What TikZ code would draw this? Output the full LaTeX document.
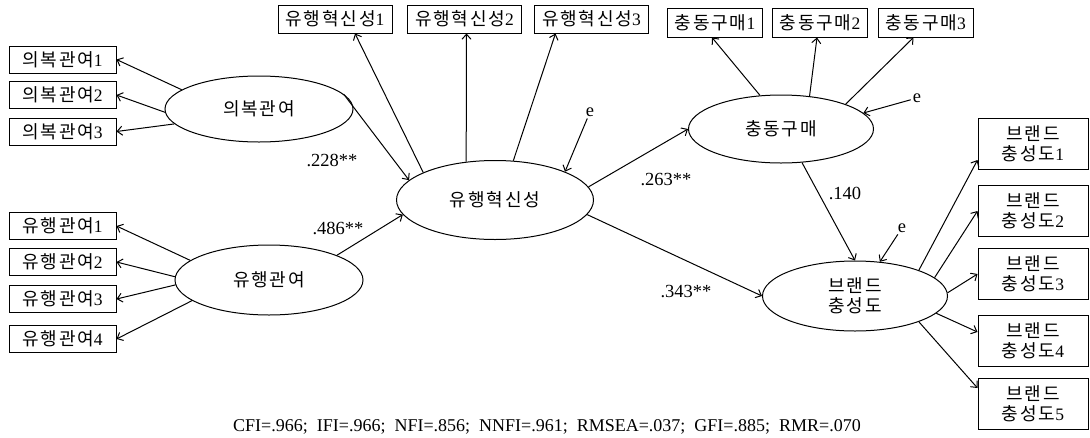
\documentclass[tikz,border=0pt]{standalone}
\usepackage{fontspec}
\setmainfont{Liberation Serif}
\newfontfamily\kr[LetterSpace=10,Scale=1.03]{Noto Sans CJK KR}
\usetikzlibrary{arrows.meta,shapes.geometric}
\begin{document}
\begin{tikzpicture}[x=1pt,y=-1pt,
  every node/.style={inner sep=0pt, font=\fontsize{17.5}{20}\selectfont},
  obs/.style={draw, line width=1pt, rectangle, align=center},
  lbox/.style={obs, minimum width=107pt, minimum height=27pt},
  tbox/.style={obs, minimum width=114pt, minimum height=28pt},
  cbox/.style={obs, minimum width=95pt, minimum height=29pt},
  rbox/.style={obs, minimum width=110pt, minimum height=51pt},
  lat/.style={draw, line width=1pt, ellipse, align=center},
  arr/.style={line width=1pt, -{Straight Barb[length=5pt,width=9pt]}},
  coef/.style={font=\fontsize{18.5}{20}\selectfont},
]
\useasboundingbox (0,0) rectangle (1090,437);
% observed boxes left
\node[lbox] (a1) at (62.5,59.5) {{\kr 의복관여}1};
\node[lbox] (a2) at (62.5,95) {{\kr 의복관여}2};
\node[lbox] (a3) at (62.5,131.5) {{\kr 의복관여}3};
\node[lbox] (b1) at (62.5,226) {{\kr 유행관여}1};
\node[lbox] (b2) at (62.5,262) {{\kr 유행관여}2};
\node[lbox] (b3) at (62.5,299) {{\kr 유행관여}3};
\node[lbox] (b4) at (62.5,339) {{\kr 유행관여}4};
% top boxes
\node[tbox] (t1) at (335,19) {{\kr 유행혁신성}1};
\node[tbox] (t2) at (464.5,19) {{\kr 유행혁신성}2};
\node[tbox] (t3) at (591.5,19) {{\kr 유행혁신성}3};
\node[cbox] (c1) at (715,22.5) {{\kr 충동구매}1};
\node[cbox] (c2) at (820,22.5) {{\kr 충동구매}2};
\node[cbox] (c3) at (925.5,22.5) {{\kr 충동구매}3};
% right boxes
\node[rbox] (r1) at (1033,144) {{\kr 브랜드}\\{\kr 충성도}1};
\node[rbox] (r2) at (1033,211) {{\kr 브랜드}\\{\kr 충성도}2};
\node[rbox] (r3) at (1033,274) {{\kr 브랜드}\\{\kr 충성도}3};
\node[rbox] (r4) at (1033,341) {{\kr 브랜드}\\{\kr 충성도}4};
\node[rbox] (r5) at (1033,404) {{\kr 브랜드}\\{\kr 충성도}5};
% latent
\node[lat, minimum width=188pt, minimum height=66pt] (A) at (259,109) {{\kr 의복관여}};
\node[lat, minimum width=188pt, minimum height=70pt] (B) at (269,280) {{\kr 유행관여}};
\node[lat, minimum width=197pt, minimum height=79pt] (Y) at (495,200) {{\kr 유행혁신성}};
\node[lat, minimum width=185pt, minimum height=68pt] (C) at (781,129) {{\kr 충동구매}};
\node[lat, minimum width=185pt, minimum height=70pt] (R) at (855,296) {{\kr 브랜드}\\{\kr 충성도}};
% errors
\node[coef] (e1) at (590,112) {e};
\node[coef] (e2) at (917,98) {e};
\node[coef] (e3) at (902,228) {e};
% coefficients
\node[coef] (l1) at (332,160) {.228**};
\node[coef] (l2) at (338,228) {.486**};
\node[coef] (l3) at (666,180) {.263**};
\node[coef] (l4) at (686,292) {.343**};
\node[coef] (l5) at (845,193) {.140};
% fit
\node[font=\fontsize{18}{20}\selectfont] (fit) at (547,427) {CFI=.966;\ \ IFI=.966;\ \ NFI=.856;\ \ NNFI=.961;\ \ RMSEA=.037;\ \ GFI=.885;\ \ RMR=.070};
% connectors
\draw[arr] (A.166) -- (a1.east);
\draw[arr] (A.182) -- (a2.east);
\draw[arr] (A.190) -- (a3.east);
\draw[arr] (B.166) -- (b1.east);
\draw[arr] (B.178) -- (b2.east);
\draw[arr] (B.183) -- (b3.east);
\draw[arr] (B.195) -- (b4.east);
\draw[arr] (A.10) -- (Y.167);
\draw[arr] (B.20) -- (Y.189);
\draw[arr] (Y.8) -- (C.180);
\draw[arr] (Y.-9) -- (R.180);
\draw[arr] (C.-58) -- (R.north);
\draw[arr] (Y.159) -- ([xshift=20pt]t1.south);
\draw[arr] (Y.127) -- ([xshift=2pt]t2.south);
\draw[arr] (Y.65) -- ([xshift=-36pt]t3.south);
\draw[arr] (C.122) -- ([xshift=-3pt]c1.south);
\draw[arr] (C.49) -- ([xshift=-3pt]c2.south);
\draw[arr] (C.21) -- ([xshift=-12pt]c3.south);
\draw[arr] (R.22) -- ([yshift=-16pt]r1.west);
\draw[arr] (R.13) -- (r2.west);
\draw[arr] (R.2) -- (r3.west);
\draw[arr] (R.-12) -- ([yshift=9pt]r4.west);
\draw[arr] (R.-22) -- ([yshift=16pt]r5.west);
\draw[arr, shorten <=2pt] (e1) -- (Y.22);
\draw[arr, shorten <=2pt] (e2) -- (C.11);
\draw[arr, shorten <=2pt] (e3) -- (R.54);
\end{tikzpicture}
\end{document}
